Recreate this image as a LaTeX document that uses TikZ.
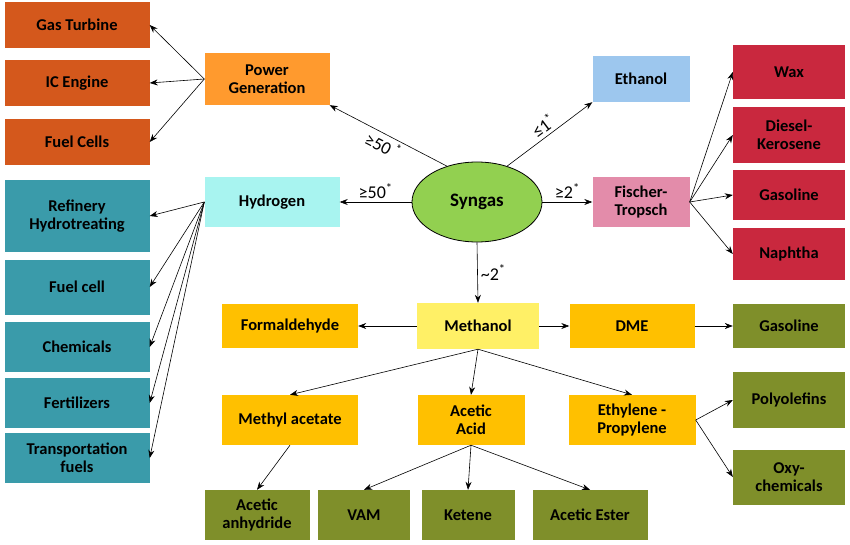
\documentclass[tikz,border=0pt]{standalone}
\usepackage{fontspec}
\setmainfont{Carlito}
\usetikzlibrary{arrows.meta,shapes.geometric}
\definecolor{cRust}{HTML}{D4581C}
\definecolor{cOrange}{HTML}{FF9A2E}
\definecolor{cSky}{HTML}{9DC7EE}
\definecolor{cRed}{HTML}{C9283E}
\definecolor{cAqua}{HTML}{A8F4F0}
\definecolor{cTeal}{HTML}{3A9BAA}
\definecolor{cLime}{HTML}{92D050}
\definecolor{cPink}{HTML}{E38CAA}
\definecolor{cYellow}{HTML}{FFF066}
\definecolor{cAmber}{HTML}{FFC000}
\definecolor{cOlive}{HTML}{7F8F2A}
\begin{document}
\begin{tikzpicture}[x=1pt,y=-1pt,
  every node/.style = {font=\fontsize{16.5}{18}\selectfont\bfseries, align=center},
  box/.style = {rectangle, minimum height=46pt, inner sep=2pt},
  arr/.style = {-{Stealth[length=8pt,width=6pt]}, semithick},
  lab/.style = {font=\fontsize{18}{19}\selectfont, inner sep=3pt}
  ]
  \useasboundingbox (0,0) rectangle (850,545);
  % syngas
  \node[ellipse, draw, thick, fill=cLime, minimum width=130pt, minimum height=80pt,
    font=\fontsize{19}{20}\selectfont\bfseries] (syn) at (477,202) {Syngas};
  % first ring
  \node[box, fill=cOrange, minimum width=125pt, minimum height=52pt] (pow) at (267,79) {Power\\Generation};
  \node[box, fill=cSky, minimum width=97pt] (eth) at (641,79) {Ethanol};
  \node[box, fill=cAqua, minimum width=135pt, minimum height=50pt] (hyd) at (272,202) {Hydrogen};
  \node[box, fill=cPink, minimum width=97pt, minimum height=50pt] (ft) at (641,202) {Fischer-\\Tropsch};
  \node[box, fill=cYellow, minimum width=122pt] (meoh) at (478,326) {Methanol};
  % power generation
  \node[box, fill=cRust, minimum width=145pt] (gt) at (77,25) {Gas Turbine};
  \node[box, fill=cRust, minimum width=145pt] (ice) at (77,83) {IC Engine};
  \node[box, fill=cRust, minimum width=145pt] (fc) at (77,142) {Fuel Cells};
  % fischer-tropsch
  \node[box, fill=cRed, minimum width=112pt, minimum height=54pt] (wax) at (789,72) {Wax};
  \node[box, fill=cRed, minimum width=112pt, minimum height=56pt] (dk) at (789,135) {Diesel-\\Kerosene};
  \node[box, fill=cRed, minimum width=112pt, minimum height=50pt] (gas) at (789,195) {Gasoline};
  \node[box, fill=cRed, minimum width=112pt, minimum height=52pt] (nap) at (789,254) {Naphtha};
  % hydrogen
  \node[box, fill=cTeal, minimum width=145pt, minimum height=72pt] (ref) at (77,216) {Refinery\\Hydrotreating};
  \node[box, fill=cTeal, minimum width=145pt, minimum height=55pt] (fcl) at (77,287) {Fuel cell};
  \node[box, fill=cTeal, minimum width=145pt, minimum height=50pt] (chem) at (77,347) {Chemicals};
  \node[box, fill=cTeal, minimum width=145pt, minimum height=50pt] (fert) at (77,403) {Fertilizers};
  \node[box, fill=cTeal, minimum width=145pt, minimum height=50pt] (tf) at (77,458) {Transportation\\fuels};
  % methanol
  \node[box, fill=cAmber, minimum width=136pt, minimum height=44pt] (form) at (290,326) {Formaldehyde};
  \node[box, fill=cAmber, minimum width=125pt, minimum height=44pt] (dme) at (632,326) {DME};
  \node[box, fill=cOlive, minimum width=112pt, minimum height=44pt] (gas2) at (789,326) {Gasoline};
  \node[box, fill=cAmber, minimum width=136pt, minimum height=50pt] (mac) at (290,420) {Methyl acetate};
  \node[box, fill=cAmber, minimum width=107pt, minimum height=50pt] (aa) at (471,420) {Acetic\\Acid};
  \node[box, fill=cAmber, minimum width=127pt, minimum height=50pt] (ep) at (632,420) {Ethylene -\\Propylene};
  \node[box, fill=cOlive, minimum width=112pt, minimum height=56pt] (poly) at (789,400) {Polyolefins};
  \node[box, fill=cOlive, minimum width=112pt, minimum height=55pt] (oxy) at (789,477) {Oxy-\\chemicals};
  \node[box, fill=cOlive, minimum width=105pt, minimum height=50pt] (anh) at (257,515) {Acetic\\anhydride};
  \node[box, fill=cOlive, minimum width=92pt, minimum height=50pt] (vam) at (364,515) {VAM};
  \node[box, fill=cOlive, minimum width=93pt, minimum height=50pt] (ket) at (468,515) {Ketene};
  \node[box, fill=cOlive, minimum width=115pt, minimum height=50pt] (est) at (590,515) {Acetic Ester};
  % syngas arrows
  \draw[arr] (syn.130) -- node[lab, sloped, below] {≥50\,\textsuperscript{*}} (pow.south east);
  \draw[arr] (syn.50) -- node[lab, sloped, above] {≤1\textsuperscript{*}} (eth.south west);
  \draw[arr] (syn.west) -- node[lab, above] {≥50\textsuperscript{*}} (hyd.east);
  \draw[arr] (syn.east) -- node[lab, above] {≥2\textsuperscript{*}} (ft.west);
  \draw[arr] (syn.south) -- node[lab, right] {\textasciitilde2\textsuperscript{*}} (meoh.north);
  % branches
  \foreach \t in {gt,ice,fc} \draw[arr] (pow.west) -- (\t.east);
  \foreach \t in {wax,dk,gas,nap} \draw[arr] (ft.east) -- (\t.west);
  \foreach \t in {ref,fcl,chem,fert,tf} \draw[arr] (hyd.west) -- (\t.east);
  \draw[arr] (meoh.west) -- (form.east);
  \draw[arr] (meoh.east) -- (dme.west);
  \draw[arr] (dme.east) -- (gas2.west);
  \foreach \t in {mac,aa,ep} \draw[arr] (meoh.south) -- (\t.north);
  \draw[arr] (mac.south) -- (anh.north);
  \foreach \t in {vam,ket,est} \draw[arr] (aa.south) -- (\t.north);
  \foreach \t in {poly,oxy} \draw[arr] (ep.east) -- (\t.west);
\end{tikzpicture}
\end{document}
